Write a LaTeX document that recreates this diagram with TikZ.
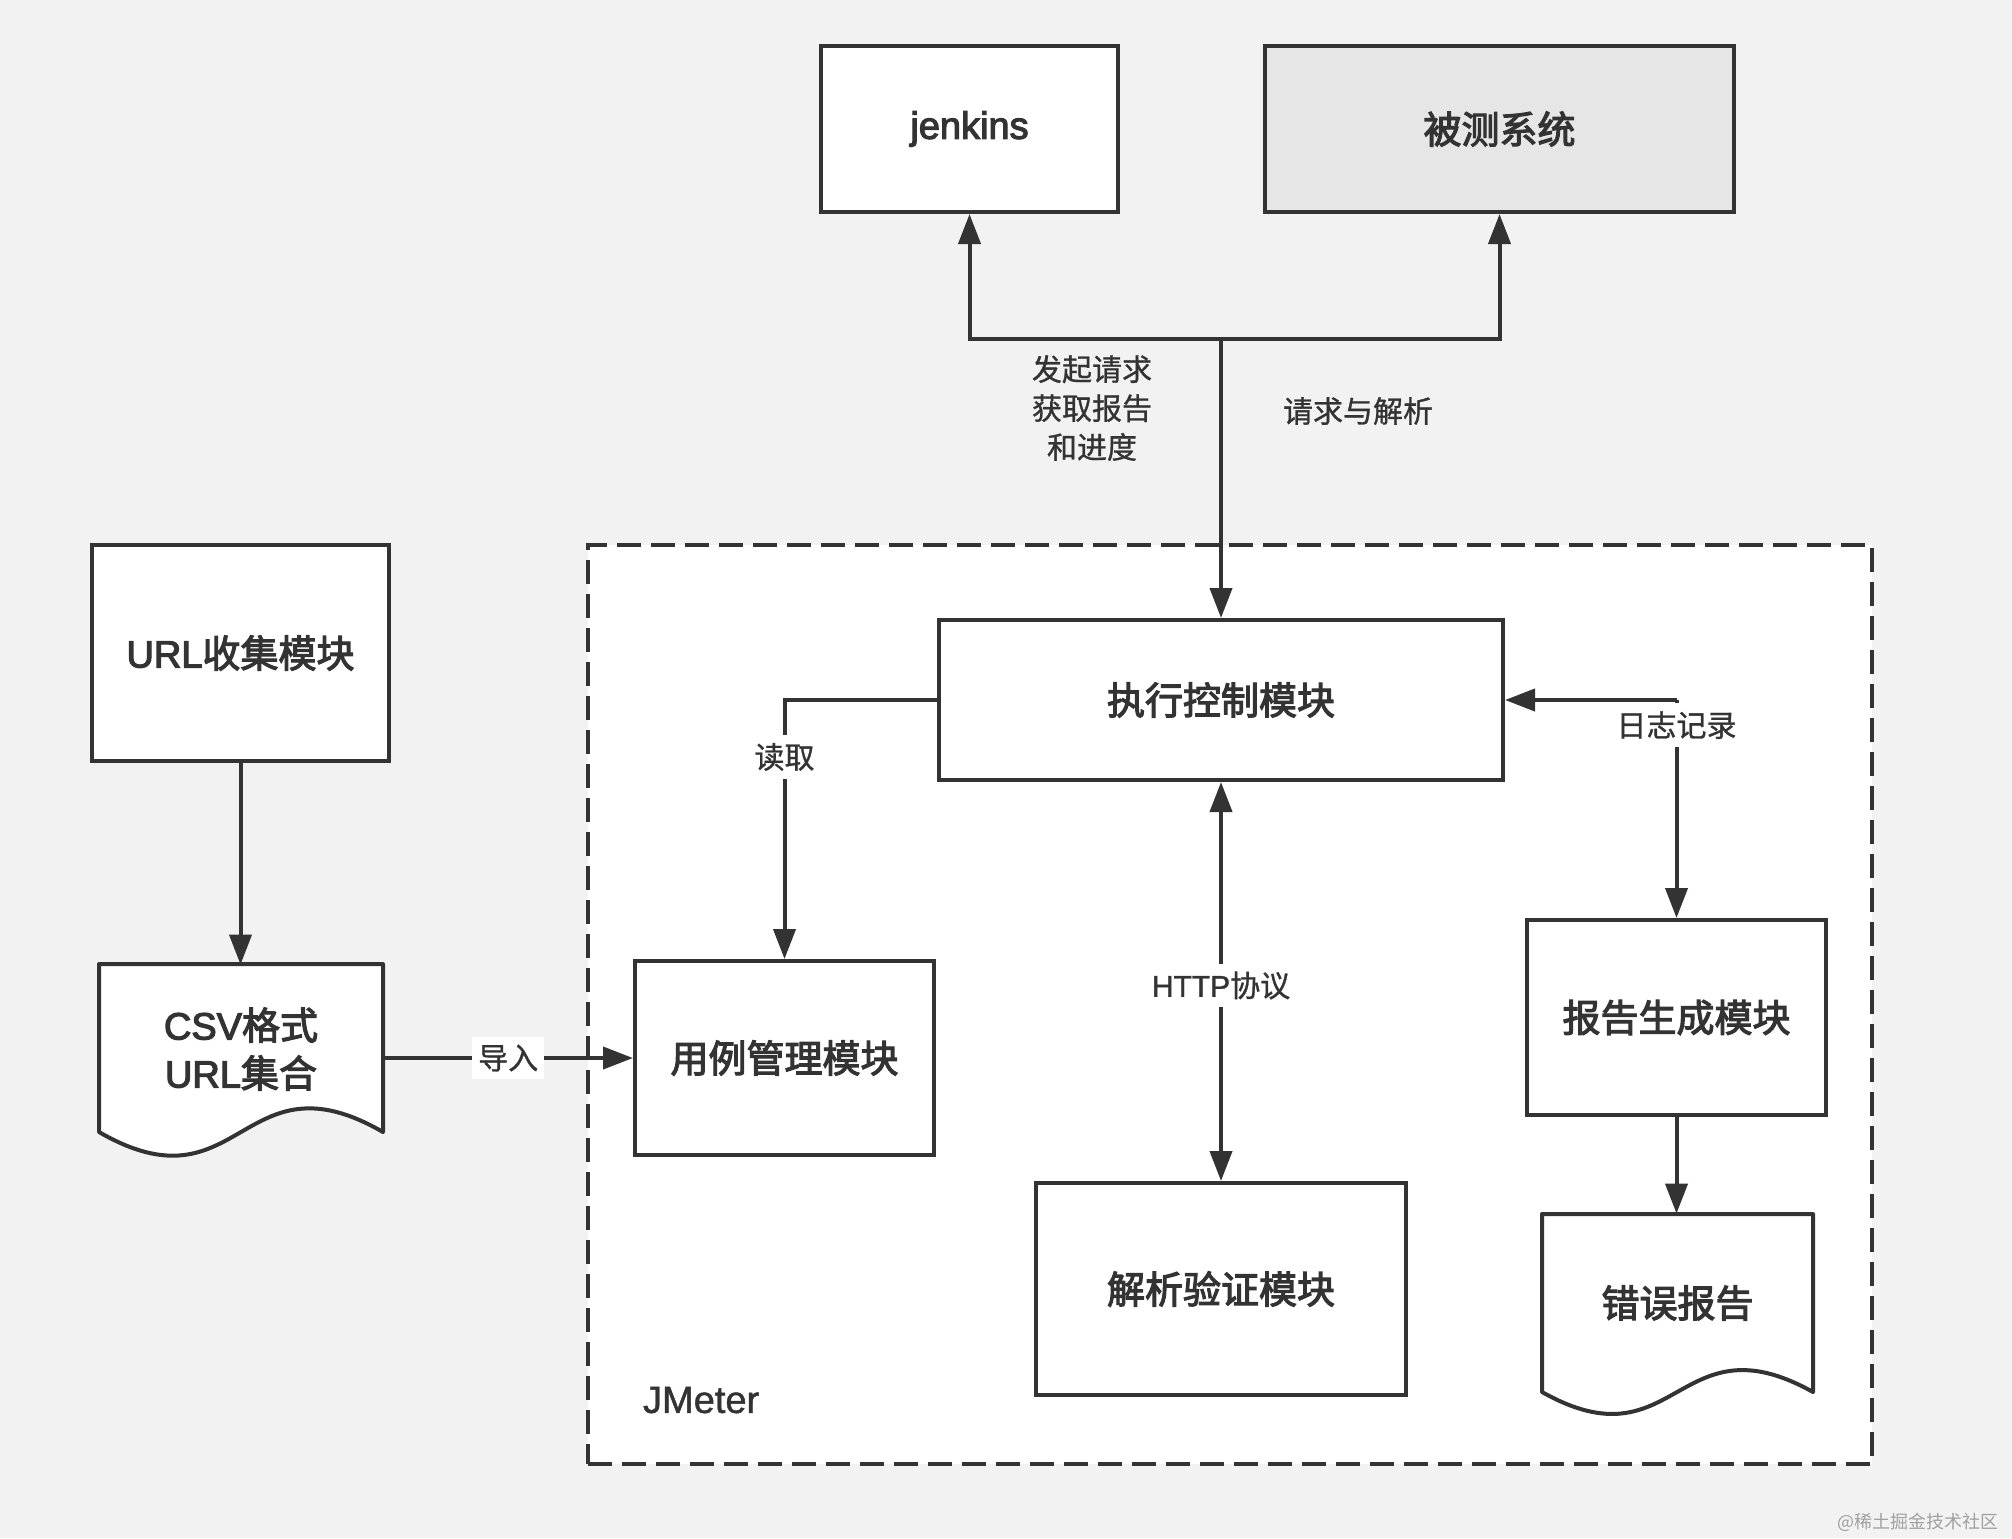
\documentclass[tikz,border=0pt]{standalone}
\usepackage{fontspec}
\setmainfont{Noto Sans CJK SC}
\newfontfamily\boxfont[FakeBold=3]{Noto Sans CJK SC}
\newfontfamily\lblfont[FakeBold=1]{Noto Sans CJK SC}
\newfontfamily\latbox[FakeBold=3]{Liberation Sans}
\newfontfamily\latlbl[FakeBold=1.2]{Liberation Sans}
\usetikzlibrary{arrows.meta}
\definecolor{bg}{HTML}{F2F2F2}
\definecolor{ln}{HTML}{333333}
\definecolor{sutfill}{HTML}{E6E6E6}
\definecolor{wm}{HTML}{A0A0A0}
\begin{document}
\begin{tikzpicture}[x=0.5pt,y=-0.5pt,
  box/.style={draw=ln, line width=2pt, fill=white, inner sep=0pt, text=ln,
    font=\boxfont\fontsize{19}{24}\selectfont, align=center},
  doctext/.style={inner sep=0pt, text=ln, font=\boxfont\fontsize{19}{24}\selectfont, align=center},
  docshape/.style={draw=ln, line width=2pt, fill=white, line join=round},
  lbl/.style={text=ln, font=\lblfont\fontsize{15}{19.5}\selectfont, align=center},
  wl/.style={lbl, fill=white, inner xsep=3pt, inner ysep=4pt},
  arr/.style={draw=ln, line width=2pt, -{Triangle[length=15pt,width=11pt]}},
  arrtwo/.style={draw=ln, line width=2pt, {Triangle[length=15pt,width=11pt]}-{Triangle[length=15pt,width=11pt]}}]
\fill[bg] (0,0) rectangle (2012,1538);
\useasboundingbox (0,0) rectangle (2012,1538);

% JMeter container
\node[draw=ln, fill=white, line width=2pt, dash pattern=on 12pt off 5pt, inner sep=0pt,
  minimum width=642pt, minimum height=459.5pt] (jm) at (1230,1004.5) {};
\node[anchor=west, text=ln, font=\latlbl\fontsize{19}{24}\selectfont] (jmlabel) at (636,1400) {JMeter};

% top boxes
\node[box, minimum width=148.5pt, minimum height=83pt] (jenkins) at (969.5,129) {{\latbox jenkins}};
\node[box, fill=sutfill, minimum width=234.5pt, minimum height=83pt] (sut) at (1499.5,129) {被测系统};

% left
\node[box, minimum width=148.5pt, minimum height=108pt] (url) at (240.5,653) {{\latbox URL}收集模块};
\filldraw[docshape] (99,1132) -- (99,964) -- (383,964) -- (383,1132)
  .. controls (241,1050) and (241,1214) .. (99,1132) -- cycle;
\node[doctext, minimum width=142pt, minimum height=84pt] (csv) at (241,1049) {{\latbox CSV}格式\\{\latbox URL}集合};

% inside JMeter
\node[box, minimum width=282pt, minimum height=80pt] (exec) at (1221,700) {执行控制模块};
\node[box, minimum width=149.5pt, minimum height=97pt] (case) at (784.5,1058) {用例管理模块};
\node[box, minimum width=185pt, minimum height=106pt] (parse) at (1221,1289) {解析验证模块};
\node[box, minimum width=149.5pt, minimum height=97.5pt] (report) at (1676.5,1017.5) {报告生成模块};
\filldraw[docshape] (1542,1392) -- (1542,1214) -- (1813,1214) -- (1813,1392)
  .. controls (1677,1316) and (1677,1468) .. (1542,1392) -- cycle;
\node[doctext, minimum width=135.5pt, minimum height=89pt] (err) at (1677.5,1303) {错误报告};

% connectors
\coordinate (junc) at (exec.north |- 0,339);
\draw[arr] (junc) -- (exec.north);
\draw[arr] (junc) -| (jenkins.south);
\draw[arr] (junc) -| (sut.south);
\node[lbl] (l1) at (1092,408) {发起请求\\获取报告\\和进度};
\node[lbl] (l2) at (1358,411) {请求与解析};

\draw[arr] (url.south) -- (url.south |- csv.north);
\draw[arr] (csv.east |- case.west) -- node[wl, pos=0.5] (limp) {导入} (case.west);

\draw[arr] (exec.west) -| node[wl, pos=0.61] (lread) {读取} (case.north);

\draw[arrtwo] (exec.south) -- node[wl, pos=0.51] (lhttp) {{\latlbl HTTP}协议} (parse.north);

\coordinate (logc) at (report.north |- exec.east);
\draw[arr] (logc) -- node[wl, pos=0.115] (llog) {日志记录} (report.north);
\draw[arr] (logc) -- (exec.east);

\draw[arr] (report.south) -- (report.south |- err.north);

% watermark
\node[text=wm, font=\fontsize{9}{12}\selectfont, anchor=east] (wmk) at (2006,1522) {@稀土掘金技术社区};
\end{tikzpicture}
\end{document}
